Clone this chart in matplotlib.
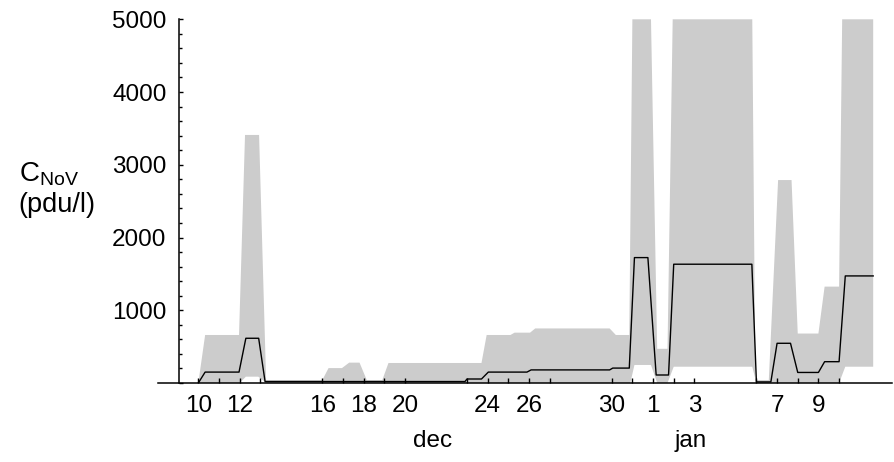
import matplotlib
matplotlib.use('Agg')
import matplotlib.pyplot as plt
import numpy as np

plt.rcParams['font.family'] = ['Liberation Sans', 'DejaVu Sans']

# day numbers: dec 10 = 10 ... dec 31 = 31, jan 1 = 32, ...
tick_days = [10, 11, 12, 13, 16, 17, 18, 19, 20, 23, 24, 25, 26, 27,
             30, 31, 32, 33, 34, 37, 38, 39, 40, 41]
label_days = [10, 12, 16, 18, 20, 24, 26, 30, 32, 34, 38, 40]
label_text = ['10', '12', '16', '18', '20', '24', '26', '30', '1', '3', '7', '9']

# median concentration (black line)
med_day = [10.0, 10.33, 11.97, 12.3, 12.92, 13.23, 22.9, 23.0, 23.7, 24.03,
           25.9, 26.1, 29.9, 30.05, 30.85, 31.1, 31.75, 32.15, 32.75, 33.0,
           36.78, 37.0, 37.7, 38.0, 38.65, 39.0, 40.0, 40.3, 41.0, 41.3, 42.65]
med_val = [0, 150, 150, 615, 615, 20, 20, 55, 55, 150,
           150, 180, 180, 205, 205, 1724, 1724, 110, 110, 1633,
           1633, 15, 15, 546, 546, 145, 145, 293, 293, 1472, 1472]

# upper edge of the grey band
up_day = [10.0, 10.33, 11.97, 12.26, 12.94, 13.28, 16.0, 16.3, 16.95, 17.3,
          17.8, 18.15, 18.9, 19.2, 23.7, 23.95, 25.1, 25.3, 26.05, 26.3,
          29.9, 30.2, 30.85, 31.0, 31.9, 32.2, 32.7, 32.95, 36.8, 36.95,
          37.6, 38.05, 38.7, 39.0, 40.0, 40.3, 41.0, 41.15, 42.65]
up_val = [0, 660, 660, 3410, 3410, 40, 40, 205, 205, 280,
          280, 40, 40, 275, 275, 660, 660, 692, 692, 750,
          750, 660, 660, 5000, 5000, 470, 470, 5000, 5000, 40,
          40, 2790, 2790, 680, 680, 1325, 1325, 5000, 5000]

# lower edge of the grey band
lo_day = [10.0, 12.0, 12.3, 12.9, 13.3, 30.9, 31.1, 31.9, 32.2, 32.7,
          33.0, 36.8, 37.0, 41.0, 41.3, 42.65]
lo_val = [0, 0, 87, 87, 0, 0, 248, 248, 0, 0,
          224, 224, 0, 0, 224, 224]


def main():
    fig = plt.figure(figsize=(8.94, 4.62), dpi=100)
    ax = fig.add_axes([158 / 894, 79 / 462, 734 / 894, 363.7 / 462])
    ax.set_xlim(8.05, 43.56)
    ax.set_ylim(0, 5000)

    # grey band as one polygon: upper edge forward, lower edge back
    px = np.concatenate([up_day, lo_day[::-1]])
    py = np.concatenate([up_val, lo_val[::-1]])
    ax.fill(px, py, color='#cccccc', lw=0, zorder=1)
    ax.plot(med_day, med_val, color='black', lw=1.0, zorder=3)

    for s in ['top', 'right']:
        ax.spines[s].set_visible(False)
    ax.spines['left'].set_position(('data', 9.07))
    ax.spines['left'].set_bounds(0, 5000)
    for s in ['left', 'bottom']:
        ax.spines[s].set_linewidth(1.1)
        ax.spines[s].set_zorder(4)

    ax.set_yticks(range(0, 5001, 1000))
    ax.set_yticklabels(['', '1000', '2000', '3000', '4000', '5000'])
    ax.set_yticks(range(0, 5001, 200), minor=True)
    ax.tick_params(axis='y', which='major', direction='in', length=3, width=1,
                   labelsize=17.5, pad=9)
    ax.tick_params(axis='y', which='minor', direction='in', length=2, width=1)

    ax.set_xticks(label_days)
    ax.set_xticklabels(label_text)
    ax.set_xticks([d for d in tick_days if d not in label_days], minor=True)
    ax.tick_params(axis='x', which='both', direction='in', length=3.5, width=1,
                   labelsize=17.5, pad=9)

    ax.text(21.35, -0.16, 'dec', transform=ax.get_xaxis_transform(),
            ha='center', va='center', fontsize=17.5)
    ax.text(33.8, -0.16, 'jan', transform=ax.get_xaxis_transform(),
            ha='center', va='center', fontsize=17.5)

    fig.text(49 / 894, 1 - 174 / 462, r'$\mathregular{C_{NoV}}$',
             ha='center', va='center', fontsize=20)
    fig.text(57 / 894, 1 - 205 / 462, '(pdu/l)',
             ha='center', va='center', fontsize=19.5)

    fig.savefig('out.png', dpi=100)


if __name__ == "__main__":
    main()
